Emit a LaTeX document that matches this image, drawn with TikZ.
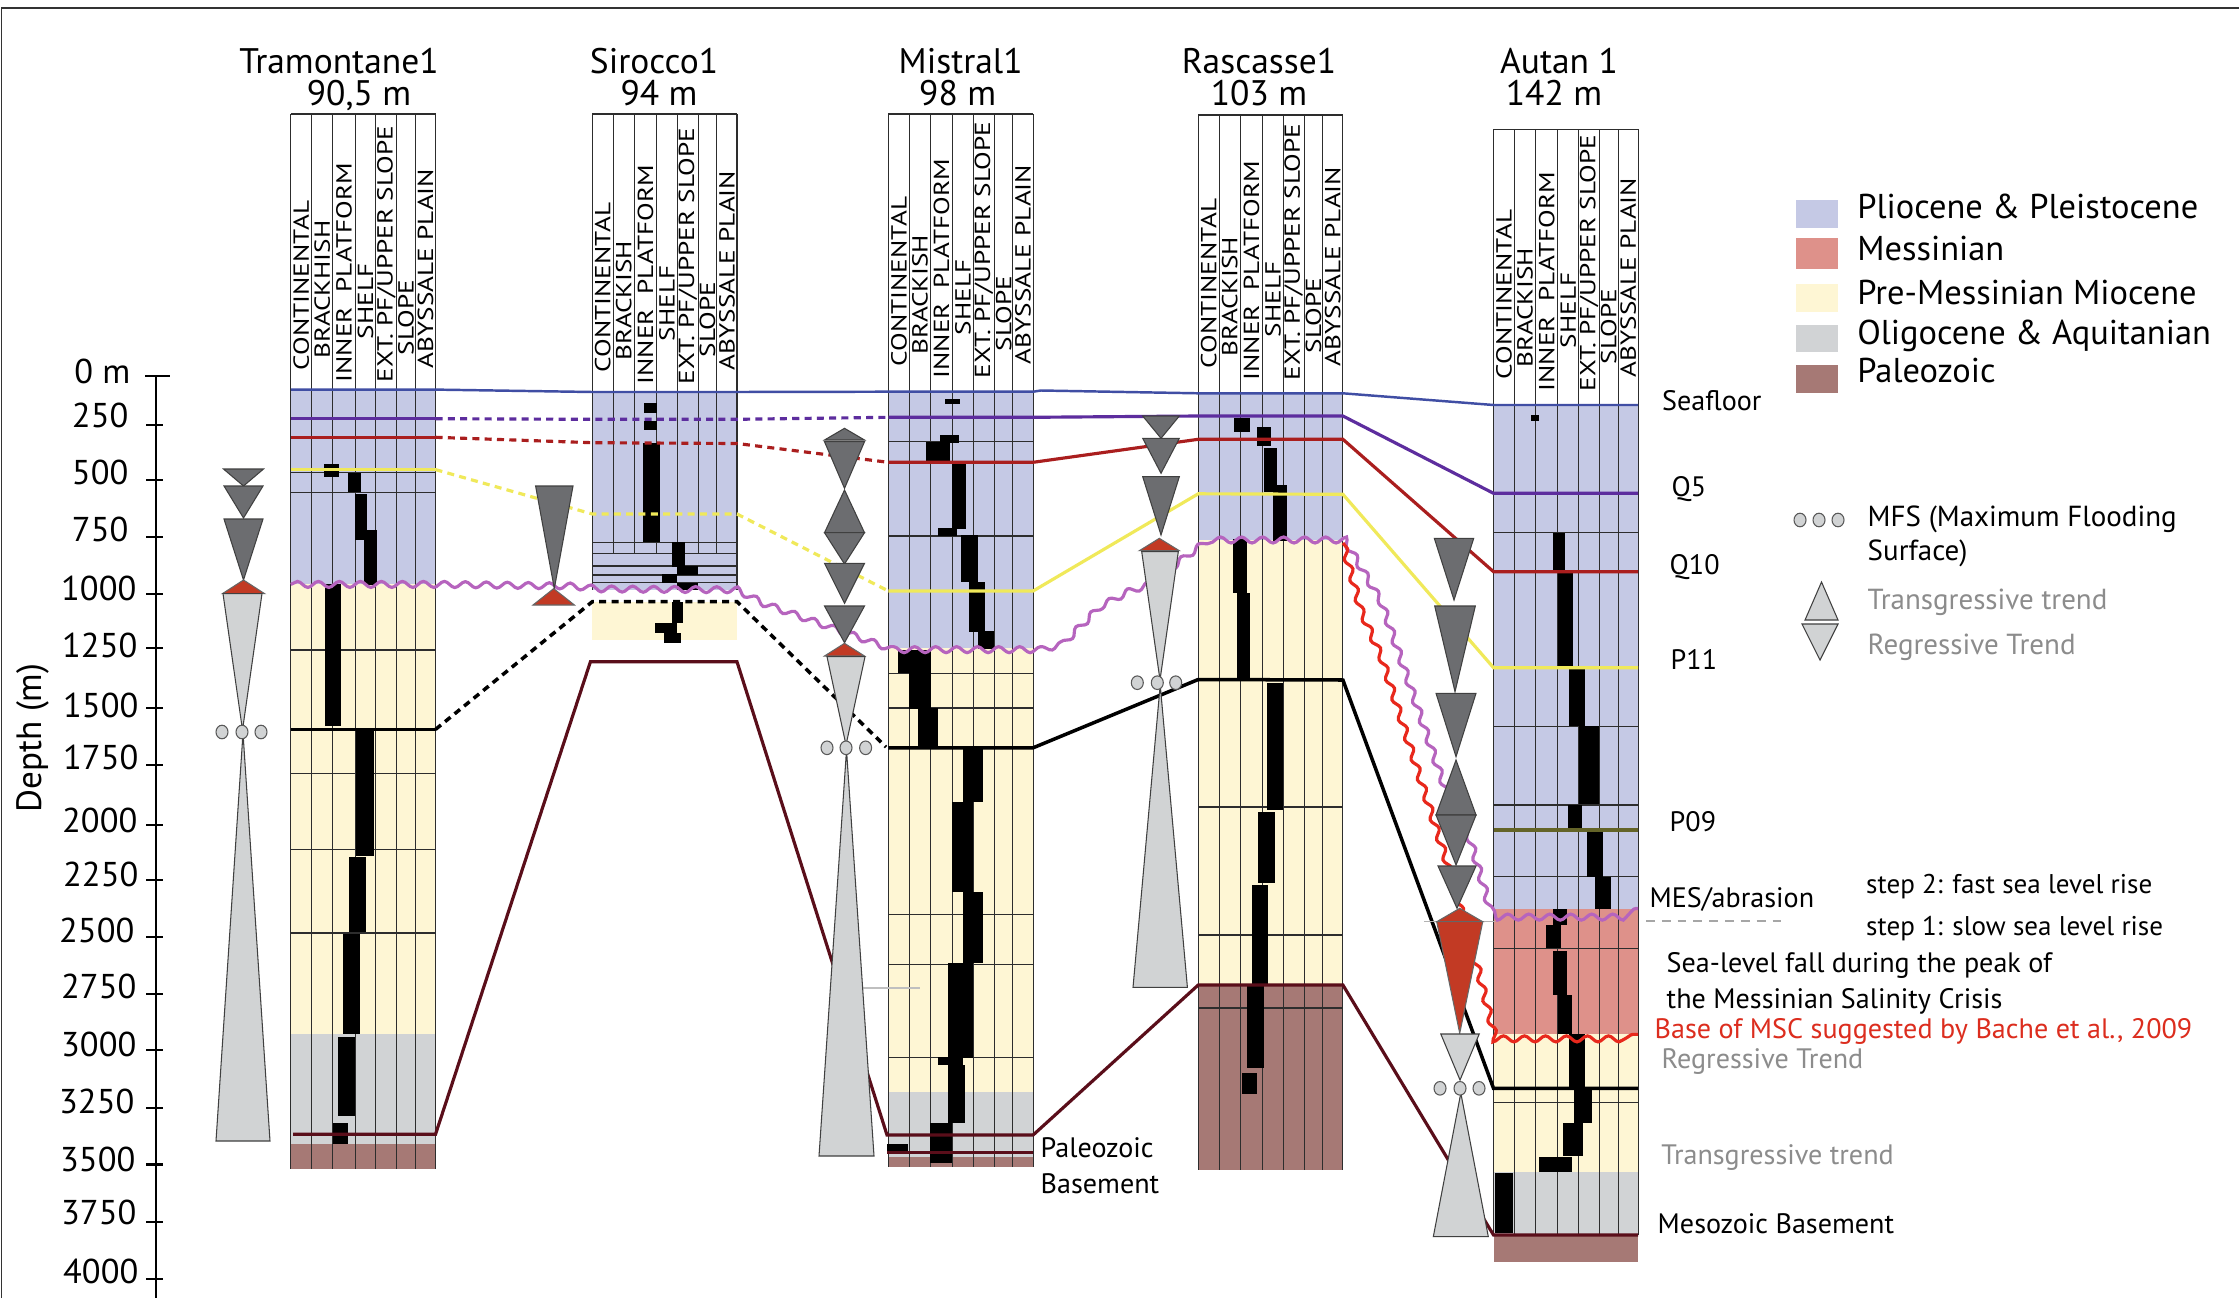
\documentclass[tikz,border=0pt]{standalone}
\usepackage{fontspec}
\setmainfont{PT Sans}
\usetikzlibrary{decorations.pathmorphing}
\definecolor{plio}{RGB}{197,201,229}
\definecolor{mess}{RGB}{222,145,138}
\definecolor{premess}{RGB}{254,246,212}
\definecolor{oligo}{RGB}{209,211,213}
\definecolor{paleo}{RGB}{166,121,117}
\definecolor{sfblue}{RGB}{64,78,164}
\definecolor{qfive}{RGB}{93,45,158}
\definecolor{qten}{RGB}{170,30,30}
\definecolor{pelev}{RGB}{240,233,90}
\definecolor{pnine}{RGB}{100,100,40}
\definecolor{mes}{RGB}{182,100,190}
\definecolor{msc}{RGB}{232,40,28}
\definecolor{trdark}{RGB}{108,109,112}
\definecolor{trred}{RGB}{194,58,36}
\definecolor{trlight}{RGB}{209,211,212}
\definecolor{basem}{RGB}{90,14,26}
\definecolor{gridc}{RGB}{45,45,45}
\definecolor{graytxt}{RGB}{140,140,140}
\definecolor{msctxt}{RGB}{220,45,30}

\newcommand\hx[1]{\scalebox{1.25}[1]{#1}}
\newcommand\wellgrid[3]{%
  \foreach \dx in {0,21,42,64.3,85,106,124.5,144.7} \draw[gridln] (#1+\dx,#2) -- (#1+\dx,#3);
  \draw[gridln] (#1,#2) -- (#1+144.7,#2);}
\newcommand\hlines[2]{\foreach \yy in {#2} \draw[gridln] (#1,\yy) -- (#1+144.7,\yy);}
\newcommand\wellheads[4]{%
  \node[hdr] (#4c1) at (#1+10.5,#2-12) {\hx{CONTINENTAL}};
  \node[hdr] (#4c2) at (#1+31.5,#2-24) {\hx{#3}};
  \node[hdr] (#4c3) at (#1+53.2,#2) {\hx{INNER\ \ PLATFORM}};
  \node[hdr] (#4c4) at (#1+74.7,#2-43) {\hx{SHELF}};
  \node[hdr] (#4c5) at (#1+95.5,#2) {\hx{EXT. PF/UPPER SLOPE}};
  \node[hdr] (#4c6) at (#1+115.3,#2-27) {\hx{SLOPE}};
  \node[hdr] (#4c7) at (#1+134.6,#2-14) {\hx{ABYSSALE PLAIN}};}
\newcommand\bars[1]{\foreach \a/\b/\c/\d in {#1} \fill[black] (\a,\c) rectangle (\b,\d);}
\newcommand\trishape[5]{\filldraw[#1] (#2-#5,#3) -- (#2+#5,#3) -- (#2,#4) -- cycle;}
\newcommand\mfsdots[4]{\foreach \cx in {#1,#2,#3} \filldraw[mfsc] (\cx,#4) ellipse [x radius=0.6mm, y radius=0.68mm];}

\begin{document}
\begin{tikzpicture}[x=0.1mm,y=-0.1mm,
  gridln/.style={gridc, line width=0.3pt},
  cor/.style={line width=0.9pt},
  dsh/.style={dash pattern=on 2pt off 1.5pt},
  wave/.style={decorate, decoration={snake, segment length=2.1mm, amplitude=0.3mm}, line width=0.9pt},
  tdark/.style={fill=trdark, draw=black!75, line width=0.3pt},
  tred/.style={fill=trred, draw=black!60, line width=0.3pt},
  tlight/.style={fill=trlight, draw=black!75, line width=0.3pt},
  mfsc/.style={fill=trlight, draw=black!65, line width=0.3pt},
  hdr/.style={rotate=90, anchor=west, inner sep=0pt, font=\fontsize{6.2}{7}\selectfont},
  ttl/.style={anchor=north, inner sep=0pt, align=center, font=\fontsize{10.1}{8.9}\selectfont},
  legtxt/.style={anchor=base west, inner sep=0pt, font=\fontsize{9.8}{12}\selectfont},
  lab/.style={anchor=base west, inner sep=0pt, font=\fontsize{8}{10}\selectfont},
  leglab/.style={anchor=base west, inner sep=0pt, font=\fontsize{8.25}{10}\selectfont},
  tick/.style={anchor=east, inner sep=0pt, font=\fontsize{9.8}{11}\selectfont}]
\useasboundingbox (0,0) rectangle (2239,1298);
\fill[white] (0,0) rectangle (2239,1298);
\draw[black!80, line width=0.5pt] (1.5,1298) -- (1.5,8) -- (2239,8);

% ---------- fills
\fill[plio] (290.8,389.6) rectangle (435.5,584);
\fill[premess] (290.8,584) rectangle (435.5,1033.6);
\fill[oligo] (290.8,1033.6) rectangle (435.5,1143.5);
\fill[paleo] (290.8,1143.5) rectangle (435.5,1168.7);
\fill[plio] (592.3,392) rectangle (737,590);
\fill[premess] (592.3,601.7) rectangle (737,640);
\fill[plio] (888.4,391.7) rectangle (1033.1,648);
\fill[premess] (888.4,648) rectangle (1033.1,1092);
\fill[oligo] (888.4,1092) rectangle (1033.1,1157);
\fill[paleo] (888.4,1157) rectangle (1033.1,1167);
\fill[plio] (1198.2,393.5) rectangle (1342.9,540);
\fill[premess] (1198.2,540) rectangle (1342.9,985);
\fill[paleo] (1198.2,985) rectangle (1342.9,1169.5);
\fill[plio] (1493.5,405) rectangle (1638.2,908.5);
\fill[mess] (1493.5,908.5) rectangle (1638.2,1034.4);
\fill[premess] (1493.5,1034.4) rectangle (1638.2,1171.5);
\fill[oligo] (1493.5,1171.5) rectangle (1638.2,1234.5);
\fill[paleo] (1493.5,1234.5) rectangle (1638.2,1262);

% ---------- grids
\wellgrid{290.8}{114}{1168.7}
\wellgrid{592.3}{114}{553.3}
\draw[gridln] (592.3,553.3) -- (592.3,590);
\draw[gridln] (737,553.3) -- (737,590);
\wellgrid{888.4}{114}{1167}
\wellgrid{1198.2}{115}{1169.5}
\wellgrid{1493.5}{129.3}{1234.5}
\hlines{290.8}{472.5,492.4,650,773.4,849.8,933}
\hlines{592.3}{542.3,553.3,566,575,582.7}
\hlines{888.4}{441.7,536,673.3,708,914.8,964.4,1057.5}
\hlines{1198.2}{807,935,1008}
\hlines{1493.5}{532.6,726.7,805,876.7,948.3,1102.7}
\draw[black!25, line width=0.4pt] (862,988) -- (920,988);

% ---------- lithology bars
\bars{323.8/339.3/464/476.7, 348/361/473.4/492.4, 355.3/367.4/494/539.7, 363.5/377/529.7/585.3,
 325/340.5/584.4/726, 356.3/374.2/728/856, 349/366/857.4/931.6, 342.7/359.6/933.7/1033.6,
 337.8/354.8/1036.5/1116, 332.5/348/1122.5/1143.5}
\bars{644/657.3/403.3/412.7, 644/657.3/420.7/430, 643.3/660/442.7/542.3, 671.7/685/542.3/566.7,
 677.3/698.3/566/575, 661.7/677.3/574.3/582.7, 676.7/698.3/582.7/590, 671.7/683.3/601.7/623.3,
 655/676.7/623.3/632.7, 664/680.7/633.3/642.7}
\bars{945/960/399/404, 940/959.3/435/442.7, 926/950/441.7/460.7, 951.7/966/463.3/529.3,
 937.7/956.7/528.3/536, 961/977.7/535/581.7, 969.3/985/581.7/631.7, 978.3/994.3/631/649.3,
 897.7/930.7/650/673.3, 909/930.7/673.3/709, 917.5/938.4/708/747, 962.6/983/748/801.5,
 952.4/973.3/801.5/891.8, 962.6/983/891.8/963, 948/973.3/963/1057.5, 938/962.6/1056.7/1065,
 948/964.5/1065/1122.5, 929.6/951.5/1122.5/1163, 887/908/1143.5/1152.8}
\bars{1234/1250/418.3/431.7, 1256.7/1270.7/427.3/446, 1264/1276.7/448.3/491.7, 1273.3/1287.3/485/541,
 1233.3/1247.3/539.3/593.3, 1236.7/1250/593.3/680, 1266.7/1283.3/683.3/810, 1258/1274.7/812/882.5,
 1252/1268/884.6/985, 1247/1264/985/1068, 1242/1257/1073/1094}
\bars{1531/1539/414.5/421, 1552.6/1564.7/532.6/570, 1557.5/1573/572/668, 1568.6/1584.6/669/726,
 1579/1599/726/803.6, 1567.5/1582/804.5/829, 1587/1603/829.7/877, 1595/1611/877/908.5,
 1552.5/1567/908.5/925, 1545.5/1560.5/925/948.4, 1552.5/1567/950.5/994.6, 1558/1572/994.6/1034.4,
 1568.6/1584.6/1034.4/1088, 1574/1591.6/1088/1122.5, 1563/1583/1122.5/1156, 1539/1572/1157/1172,
 1495/1512.7/1172.7/1233.3}

% ---------- correlation lines
\draw[cor, sfblue, line width=0.7pt] (290.8,389.6) -- (435.5,389.6) -- (592.3,392) -- (737,392) -- (888.4,391.7) -- (1033.1,391.7) -- (1041,390.5) -- (1198.2,393.3) -- (1342.9,393.3) -- (1493.5,405) -- (1638.2,405);
\draw[cor, qfive] (290.8,418.7) -- (435.5,418.7);
\draw[cor, qfive, dsh] (435.5,418.7) -- (592.3,419.3) -- (737,419.3) -- (888.4,417.3);
\draw[cor, qfive] (888.4,417.3) -- (1033.1,417.3) -- (1198.2,416) -- (1342.9,416) -- (1493.5,493.3) -- (1638.2,493.3);
\draw[cor, qten] (290.8,437.3) -- (435.5,437.3);
\draw[cor, qten, dsh] (435.5,437.3) -- (592.3,442.7) -- (737,443.5) -- (888.4,462.3);
\draw[cor, qten] (888.4,462.3) -- (1033.1,462.3) -- (1198.2,439.3) -- (1342.9,439.3) -- (1493.5,571.7) -- (1638.2,571.7);
\draw[cor, pelev] (290.8,469.6) -- (435.5,469.6);
\draw[cor, pelev, dsh] (435.5,469.6) -- (592.3,514) -- (737,514) -- (888.4,591);
\draw[cor, pelev] (888.4,591) -- (1033.1,591) -- (1198.2,493.8) -- (1342.9,494.3) -- (1493.5,667.7) -- (1638.2,667.7);
\draw[cor, pnine] (1493.5,830) -- (1638.2,830);
\draw[black, line width=1pt] (290.8,729.4) -- (435.5,729.4);
\draw[black, line width=1pt, dsh] (435.5,729.4) -- (592.3,601.7) -- (737,601.7) -- (886,747);
\draw[black, line width=1pt] (888.4,747.8) -- (1033.1,747.8) -- (1198.2,679.5) -- (1342.9,680) -- (1493.5,1088.3) -- (1638.2,1088.3);
\draw[basem, line width=0.9pt] (293,1134.3) -- (435.5,1134.3) -- (590.4,661.8) -- (737,661.8) -- (887,1135) -- (1033.1,1135) -- (1198.2,985) -- (1342.9,985) -- (1493.5,1235) -- (1638.2,1235);
\draw[basem, line width=0.9pt] (887,1152.8) -- (1033.1,1152.8);
\draw[black!30, line width=0.4pt] (1424,921.5) -- (1495,921.5);
\draw[black!35, line width=0.5pt, dash pattern=on 2.5pt off 2pt] (1646,921) -- (1783,921);

% ---------- erosional surfaces
\draw[wave, mes] (290.8,584.4) -- (435.5,584.4) -- (560,586) -- (592.3,589) -- (737,590) -- (760,601.7) -- (886,646.6) -- (1033.1,646.6) -- (1060,640) -- (1099,601) -- (1120,590) -- (1140,583) -- (1180,553) -- (1198.2,540) -- (1342.9,540) -- (1380,603) -- (1443,787) -- (1468,837) -- (1487,903) -- (1493.5,908.5) -- (1638.2,908.5);
\draw[wave, msc] (1342.9,543) -- (1360,607) -- (1380,653) -- (1447,863) -- (1475,960) -- (1493.5,1034.4) -- (1638.2,1034.4);

% ---------- trend triangles
% Tramontane
\trishape{tdark}{243.5}{469}{486}{20}
\trishape{tdark}{243.5}{486}{518}{19.5}
\trishape{tdark}{243.5}{519}{580}{19.5}
\trishape{tred}{243.5}{593.6}{580}{21}
\trishape{tlight}{242.5}{593.6}{730}{19.5}
\trishape{tlight}{243}{1141}{733}{27}
\mfsdots{222}{242}{261}{732}
% Sirocco
\trishape{tdark}{554.3}{486}{588.6}{18.7}
\trishape{tred}{553.7}{605}{588.6}{20.7}
% Mistral
\trishape{tdark}{844.5}{440}{428.3}{20}
\trishape{tdark}{844.5}{441.7}{488.3}{20}
\trishape{tdark}{844.5}{532.7}{490}{20}
\trishape{tdark}{844.5}{532.7}{564}{20}
\trishape{tdark}{844.5}{563.3}{603.3}{20}
\trishape{tdark}{844.5}{606}{642.7}{20}
\trishape{tred}{844.5}{656}{643.3}{20}
\trishape{tlight}{846}{656.7}{745}{19}
\trishape{tlight}{846.5}{1156}{750}{27.5}
\mfsdots{827}{846}{865.6}{747.8}
% Rascasse
\trishape{tdark}{1161}{416}{438.3}{18.3}
\trishape{tdark}{1161}{438.3}{473.3}{18.3}
\trishape{tdark}{1161}{476.7}{535}{18.3}
\trishape{tred}{1159.3}{550.7}{538.3}{20}
\trishape{tlight}{1160}{551.7}{680}{18.3}
\trishape{tlight}{1160.2}{987.4}{685}{27.2}
\mfsdots{1137.3}{1157.3}{1175.7}{682.7}
% Autan
\trishape{tdark}{1454}{538.3}{600}{19.7}
\trishape{tdark}{1455}{606}{691.7}{20.3}
\trishape{tdark}{1456}{693.3}{756.7}{20}
\trishape{tdark}{1456}{815}{760}{20}
\trishape{tdark}{1456}{815}{865}{20}
\trishape{tdark}{1457}{866}{908.3}{19}
\trishape{tred}{1459.7}{921.7}{908.3}{23}
\trishape{tred}{1459.7}{921.7}{1033.3}{23}
\trishape{tlight}{1460}{1034}{1080}{19.2}
\trishape{tlight}{1460.8}{1236.7}{1093}{27.5}
\mfsdots{1440}{1460}{1479}{1088.3}

% ---------- depth axis
\draw[black, line width=0.6pt] (156,376.4) -- (156,1298);
\draw[black, line width=0.6pt] (145,376.4) -- (170,376.4);
\node[tick] (d0) at (131,371) {0 m};
\foreach \v/\yl/\yt/\xr in {250/415/424.9/129, 500/472.6/480/129, 750/529.6/536.8/129, 1000/588/593.6/137,
  1250/645/648.4/138, 1500/705/708.4/139, 1750/757/765/139, 2000/820/824.6/138, 2250/874/880.4/139,
  2500/930.5/936.7/135, 2750/986.5/993.7/137, 3000/1044/1050.4/137, 3250/1101/1107.9/135,
  3500/1159/1164.5/136, 3750/1212/1222/137, 4000/1271/1278.6/139}{
  \draw[black, line width=0.6pt] (146,\yt) -- (163,\yt);
  \node[tick] (d\v) at (\xr,\yl) {\v};}
\node[rotate=90, inner sep=0pt, font=\fontsize{10}{12}\selectfont] (depth) at (33,738) {Depth (m)};

% ---------- well titles and headers
\node[ttl] (t1) at (339,48) {Tramontane1\\\hspace*{4mm}90,5 m};
\node[ttl] (t2) at (654,48) {Sirocco1\\\hspace*{1mm}94 m};
\node[ttl] (t3) at (960.7,48) {Mistral1\\98 m\hspace*{0.6mm}};
\node[ttl] (t4) at (1259,48) {Rascasse1\\103 m};
\node[ttl] (t5) at (1559,48) {Autan 1\\142 m\hspace*{1mm}};
\wellheads{290.8}{383}{BRACKHISH}{tr}
\wellheads{592.3}{385}{BRACKISH}{si}
\wellheads{888.4}{379}{BRACKISH}{mi}
\wellheads{1198.2}{381}{BRACKISH}{ra}
\wellheads{1493.5}{392}{BRACKISH}{au}

% ---------- right labels
\node[lab] (sf) at (1661.5,410.4) {Seafloor};
\node[lab] (q5) at (1671,496) {Q5};
\node[lab] (q10) at (1669,574) {Q10};
\node[lab] (p11) at (1670,669.4) {P11};
\node[lab] (p09) at (1669,831) {P09};
\node[lab] (mesl) at (1648.8,907.3) {MES/abrasion};
\node[lab, font=\fontsize{7.7}{10}\selectfont] (st2) at (1865.5,893.8) {step 2: fast sea level rise};
\node[lab, font=\fontsize{7.7}{10}\selectfont] (st1) at (1865.5,935) {step 1: slow sea level rise};
\node[lab] (slf1) at (1666,972.7) {Sea-level fall during the peak of};
\node[lab] (slf2) at (1666,1008) {the Messinian Salinity Crisis};
\node[lab, text=msctxt] (bmsc) at (1654,1038.6) {Base of MSC suggested by Bache et al., 2009};
\node[lab, text=graytxt] (rtr) at (1661,1068.8) {Regressive Trend};
\node[lab, text=graytxt] (ttr) at (1660.6,1164.5) {Transgressive trend};
\node[lab] (mzb) at (1657,1233.7) {Mesozoic Basement};
\node[lab] (pzb1) at (1040,1157) {Paleozoic};
\node[lab] (pzb2) at (1040,1193) {Basement};

% ---------- legend
\fill[plio] (1796,200) rectangle (1838,228);
\fill[mess] (1796,238) rectangle (1838,269);
\fill[premess] (1796,284) rectangle (1838,312);
\fill[oligo] (1796,325) rectangle (1838,352);
\fill[paleo] (1796,365) rectangle (1838,393);
\node[legtxt] (lg1) at (1856.6,218.9) {Pliocene \& Pleistocene};
\node[legtxt] (lg2) at (1856.6,260.3) {Messinian};
\node[legtxt] (lg3) at (1856.6,304.7) {Pre-Messinian Miocene};
\node[legtxt] (lg4) at (1856.6,344) {Oligocene \& Aquitanian};
\node[legtxt] (lg5) at (1856.6,382.2) {Paleozoic};
\mfsdots{1800}{1819}{1838}{520}
\node[leglab] (lm1) at (1867,526.4) {MFS (Maximum Flooding};
\node[leglab] (lm2) at (1867,560.4) {Surface)};
\trishape{tlight}{1821.5}{620}{582}{16.5}
\trishape{tlight}{1820}{624}{660}{18}
\node[leglab, text=graytxt] (lm3) at (1867,609.3) {Transgressive trend};
\node[leglab, text=graytxt] (lm4) at (1867,654) {Regressive Trend};
\end{tikzpicture}
\end{document}
